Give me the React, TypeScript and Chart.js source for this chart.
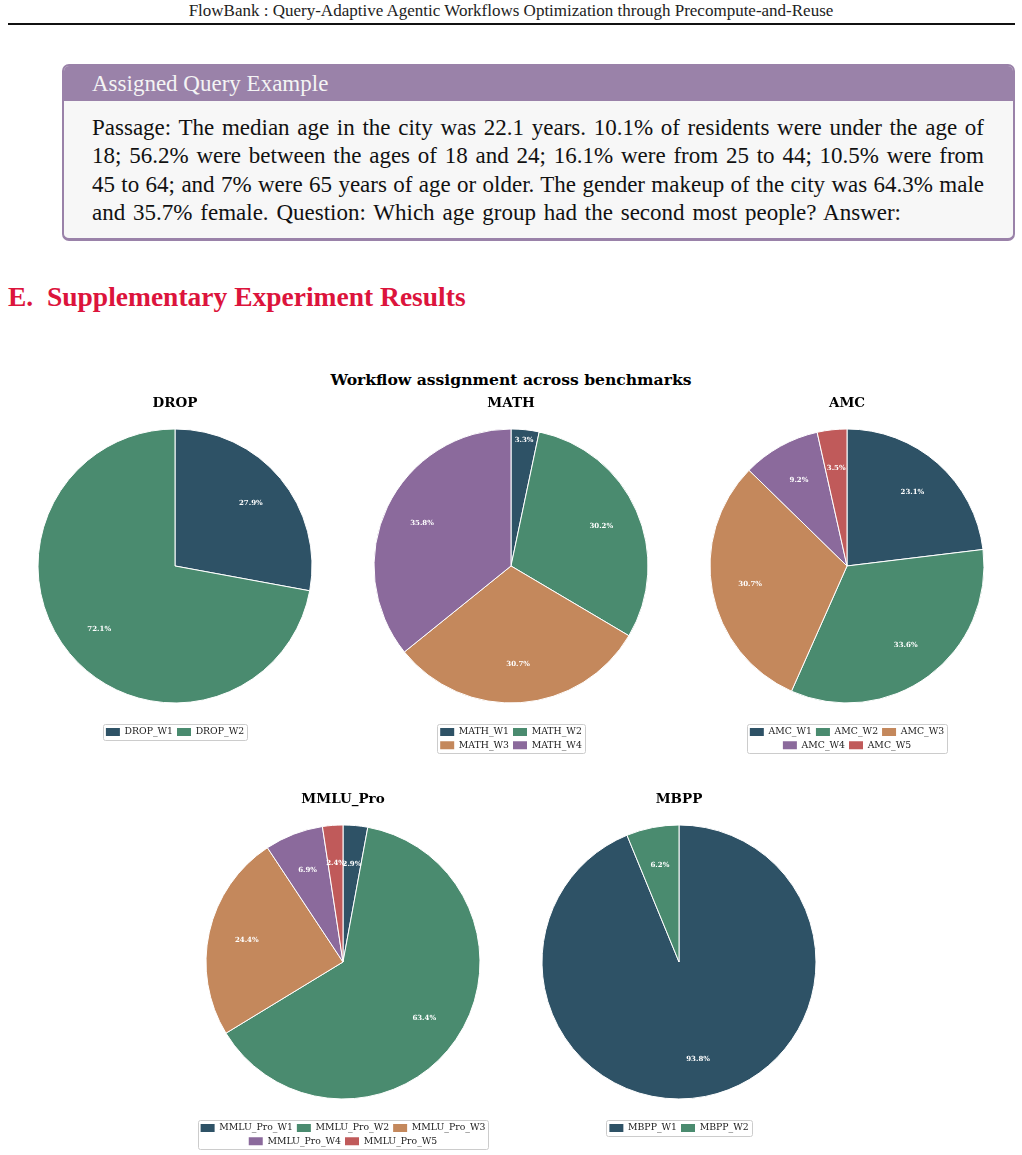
import React, { useEffect, useRef } from 'react';
import { Chart, registerables } from 'chart.js';

Chart.register(...registerables);

// ---------- data ----------
const SUPTITLE = 'Workflow assignment across benchmarks';

const DROP_LABELS = ['DROP_W1', 'DROP_W2'];
const DROP_VALUES = [27.9, 72.1];

const MATH_LABELS = ['MATH_W1', 'MATH_W2', 'MATH_W3', 'MATH_W4'];
const MATH_VALUES = [3.3, 30.2, 30.7, 35.8];

const AMC_LABELS = ['AMC_W1', 'AMC_W2', 'AMC_W3', 'AMC_W4', 'AMC_W5'];
const AMC_VALUES = [23.1, 33.6, 30.7, 9.2, 3.5];

const MMLU_LABELS = ['MMLU_Pro_W1', 'MMLU_Pro_W2', 'MMLU_Pro_W3', 'MMLU_Pro_W4', 'MMLU_Pro_W5'];
const MMLU_VALUES = [2.9, 63.4, 24.4, 6.9, 2.4];

const MBPP_LABELS = ['MBPP_W1', 'MBPP_W2'];
const MBPP_VALUES = [93.8, 6.2];

const COLORS = ['#2E5266', '#4A8B6F', '#C4885C', '#8B6A9C', '#C05A5A'];

const PASSAGE_LINES = [
  'Passage: The median age in the city was 22.1 years. 10.1% of residents were under the age of',
  '18; 56.2% were between the ages of 18 and 24; 16.1% were from 25 to 44; 10.5% were from',
  '45 to 64; and 7% were 65 years of age or older. The gender makeup of the city was 64.3% male',
  'and 35.7% female. Question: Which age group had the second most people? Answer:',
];
const PASSAGE_WIDTHS = [892, 892, 892, 809];

// ---------- plugins ----------
const pctLabels = {
  id: 'pctLabels',
  afterDatasetsDraw(chart: any, _args: any, opts: any) {
    const ctx = chart.ctx;
    const meta = chart.getDatasetMeta(0);
    const data = chart.data.datasets[0].data as number[];
    const dists: number[] = opts.dists || [];
    ctx.save();
    ctx.font = 'bold 7px "DejaVu Serif"';
    ctx.fillStyle = '#ffffff';
    ctx.textAlign = 'center';
    ctx.textBaseline = 'middle';
    meta.data.forEach((el: any, i: number) => {
      const p = el.getProps(['x', 'y', 'startAngle', 'endAngle', 'outerRadius'], true);
      const mid = (p.startAngle + p.endAngle) / 2;
      const r = p.outerRadius * (dists[i] ?? 0.72);
      ctx.fillText(data[i].toFixed(1) + '%', p.x + Math.cos(mid) * r, p.y + Math.sin(mid) * r);
    });
    ctx.restore();
  },
};

const legendFrame = {
  id: 'legendFrame',
  afterDraw(chart: any) {
    const lg = chart.legend;
    if (!lg || !lg.legendHitBoxes || !lg.legendHitBoxes.length) return;
    let l = Infinity, t = Infinity, r = -Infinity, b = -Infinity;
    for (const hb of lg.legendHitBoxes) {
      l = Math.min(l, hb.left);
      t = Math.min(t, hb.top);
      r = Math.max(r, hb.left + hb.width);
      b = Math.max(b, hb.top + hb.height);
    }
    const ctx = chart.ctx;
    ctx.save();
    ctx.strokeStyle = '#cccccc';
    ctx.lineWidth = 1;
    ctx.beginPath();
    const x0 = Math.round(l - 3) + 0.5;
    const y0 = Math.round(t - 3) + 0.5;
    const w = Math.round(r + 3) - Math.round(l - 3);
    const h = Math.round(b + 3) - Math.round(t - 3);
    if (ctx.roundRect) ctx.roundRect(x0, y0, w, h, 2);
    else ctx.rect(x0, y0, w, h);
    ctx.stroke();
    ctx.restore();
  },
};

// ---------- pie component ----------
const CANVAS_H = 380;
const LEGEND_LINE = 13.3;

type PieProps = {
  title: string;
  labels: string[];
  values: number[];
  cx: number;
  top: number;
  width: number;
  legendWidth: number;
  rows: number;
  dists?: number[];
};

function Pie({ title, labels, values, cx, top, width, legendWidth, rows, dists }: PieProps) {
  const ref = useRef<HTMLCanvasElement | null>(null);
  useEffect(() => {
    if (!ref.current) return;
    const side = (width - legendWidth) / 2;
    const areaToLegendTop = 723.35 - 390; // canvas top -> legend top
    const padBottom = CANVAS_H - areaToLegendTop - (rows * LEGEND_LINE + 10);
    const baseGen = (Chart as any).overrides.pie.plugins.legend.labels.generateLabels;
    const chart = new Chart(ref.current, {
      type: 'pie',
      data: {
        labels,
        datasets: [
          {
            data: values,
            backgroundColor: COLORS.slice(0, values.length),
            borderColor: '#ffffff',
            borderWidth: 1,
            radius: 137,
            clip: false,
          } as any,
        ],
      },
      options: {
        responsive: false,
        animation: false,
        layout: { padding: { left: side, right: side, top: 0, bottom: padBottom } },
        plugins: {
          title: {
            display: true,
            text: title,
            color: '#000000',
            font: { family: 'DejaVu Serif', size: 13.5, weight: 'bold', lineHeight: 0.69 },
            padding: { top: 9.3, bottom: 0 },
          },
          legend: {
            position: 'bottom',
            labels: {
              boxWidth: 14,
              boxHeight: 8,
              padding: 4,
              color: '#1a1a1a',
              font: { family: 'DejaVu Serif', size: 9.3 },
              generateLabels: (c: any) =>
                baseGen(c).map((it: any) => ({ ...it, lineWidth: 0, strokeStyle: 'rgba(0,0,0,0)' })),
            },
          },
          tooltip: { enabled: false },
          pctLabels: { dists },
        } as any,
      },
      plugins: [pctLabels, legendFrame],
    });
    return () => chart.destroy();
  }, []);
  return (
    <canvas
      ref={ref}
      width={width}
      height={CANVAS_H}
      style={{ position: 'absolute', left: cx - width / 2, top, width, height: CANVAS_H }}
    />
  );
}

export default function App() {
  const purple = '#9A82A9';
  return (
    <div
      style={{
        position: 'absolute',
        left: 0,
        top: 0,
        width: 1022,
        height: 1155,
        overflow: 'hidden',
        background: '#ffffff',
      }}
    >
      {/* running header */}
      <div
        style={{
          position: 'absolute',
          left: 0,
          top: 1,
          width: 1022,
          textAlign: 'center',
          fontFamily: '"Liberation Serif", serif',
          fontSize: 17,
          lineHeight: '20px',
          color: '#222',
        }}
      >
        FlowBank : Query-Adaptive Agentic Workflows Optimization through Precompute-and-Reuse
      </div>
      <div style={{ position: 'absolute', left: 8, top: 23, width: 1007, height: 2, background: '#111' }} />

      {/* query box */}
      <div
        style={{
          position: 'absolute',
          left: 62,
          top: 64,
          width: 953,
          height: 177,
          boxSizing: 'border-box',
          border: `2px solid ${purple}`,
          borderBottomWidth: 3,
          borderRadius: 7,
          background: '#f7f7f7',
          overflow: 'hidden',
        }}
      >
        <div
          style={{
            height: 35,
            background: purple,
            color: '#f4f4f4',
            fontFamily: '"Liberation Serif", serif',
            fontSize: 23,
            lineHeight: '35px',
            paddingLeft: 28,
          }}
        >
          Assigned Query Example
        </div>
      </div>
      {PASSAGE_LINES.map((line, i) => (
        <div
          key={i}
          style={{
            position: 'absolute',
            left: 92,
            top: 114 + i * 28.3,
            width: PASSAGE_WIDTHS[i],
            height: 28,
            lineHeight: '28px',
            fontFamily: '"Liberation Serif", serif',
            fontSize: 23,
            color: '#111',
            whiteSpace: 'nowrap',
            textAlign: 'justify',
            textAlignLast: 'justify',
          }}
        >
          {line}
        </div>
      ))}

      {/* section title */}
      <div
        style={{
          position: 'absolute',
          left: 8,
          top: 281,
          fontFamily: '"Liberation Serif", serif',
          fontWeight: 'bold',
          fontSize: 27.5,
          lineHeight: '32px',
          color: '#DC143C',
          whiteSpace: 'pre',
        }}
      >
        {'E.  Supplementary Experiment Results'}
      </div>

      {/* figure suptitle */}
      <div
        style={{
          position: 'absolute',
          left: 0,
          top: 371,
          width: 1022,
          textAlign: 'center',
          fontFamily: '"DejaVu Serif", serif',
          fontWeight: 'bold',
          fontSize: 15.6,
          lineHeight: '18px',
          color: '#000',
        }}
      >
        {SUPTITLE}
      </div>

      <Pie title="DROP" labels={DROP_LABELS} values={DROP_VALUES} cx={175} top={390} width={300} legendWidth={200} rows={1} />
      <Pie title="MATH" labels={MATH_LABELS} values={MATH_VALUES} cx={511} top={390} width={300} legendWidth={180} rows={2} dists={[0.92, 0.72, 0.72, 0.72]} />
      <Pie title="AMC" labels={AMC_LABELS} values={AMC_VALUES} cx={847} top={390} width={300} legendWidth={230} rows={2} />
      <Pie title="MMLU_Pro" labels={MMLU_LABELS} values={MMLU_VALUES} cx={343} top={786} width={360} legendWidth={340} rows={2} />
      <Pie title="MBPP" labels={MBPP_LABELS} values={MBPP_VALUES} cx={679} top={786} width={300} legendWidth={200} rows={1} />
    </div>
  );
}
